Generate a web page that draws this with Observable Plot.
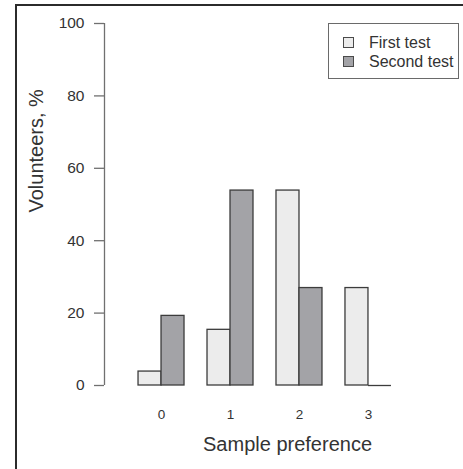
<!DOCTYPE html>
<html><head><meta charset="utf-8">
<script src="https://cdn.jsdelivr.net/npm/d3@7"></script>
<script src="https://cdn.jsdelivr.net/npm/@observablehq/plot@0.6"></script>
<style>
body{margin:0;background:#fff;}
#wrap{position:relative;width:463px;height:469px;overflow:hidden;font-family:"Liberation Sans",Arial,sans-serif;}
#wrap svg{position:absolute;left:0;top:0;}
#frame{position:absolute;left:15px;top:4px;right:-10px;bottom:-10px;border-left:2.5px solid #2b2b2b;border-top:2.5px solid #2b2b2b;pointer-events:none;}
#legend{position:absolute;left:328px;top:23px;width:131px;height:56px;border:1.3px solid #6a6a6a;background:#fff;box-sizing:border-box;}
.item{position:absolute;left:40px;font-size:16px;line-height:18px;color:#333;white-space:nowrap;}
.sw{position:absolute;left:14px;width:11px;height:11px;border:1px solid #4a4a4a;box-sizing:border-box;}
</style></head>
<body><div id="wrap"></div>
<script>
const categories = ["0", "1", "2", "3"];
const series = ["First test", "Second test"];
const firstTest = [3.85, 15.38, 53.85, 26.92];
const secondTest = [19.23, 53.85, 26.92, 0];
const yTicks = [0, 20, 40, 60, 80, 100];
const colors = ["#ececec", "#a3a3a7"];
const xDomain = [-0.48, 12.48];

const values = [firstTest, secondTest];
const table = [];
categories.forEach((c, i) => {
  series.forEach((s, j) => {
    table.push({category: c, series: s, value: values[j][i], slot: 1 + 3 * i + j});
  });
});
const centers = categories.map((c, i) => ({category: c, pos: 2 + 3 * i}));

const textColor = "#333";
const axisColor = "#707070";

const chart = Plot.plot({
  width: 463,
  height: 469,
  marginLeft: 104,
  marginRight: 61,
  marginTop: 23,
  marginBottom: 84,
  x: {domain: xDomain, axis: null},
  y: {domain: [0, 100], axis: null},
  color: {domain: series, range: colors},
  style: {fontFamily: '"Liberation Sans", Arial, sans-serif', background: "transparent", color: textColor},
  marks: [
    Plot.rect(table, {x1: "slot", x2: d => d.slot + 1, y1: 0, y2: "value", fill: "series", stroke: "#3c3c3c", strokeWidth: 1.3}),
    Plot.ruleY(table.filter(d => d.value === 0), {x1: "slot", x2: d => d.slot + 1, y: 0, stroke: "#3c3c3c", strokeWidth: 1.3}),
    Plot.ruleX([xDomain[0]], {y1: 0, y2: 100, stroke: axisColor, strokeWidth: 1.3}),
    Plot.axisY({ticks: yTicks, tickSize: 10, tickPadding: 10, label: null, fontSize: 15.5, stroke: axisColor, strokeWidth: 1.3, color: textColor}),
    Plot.text(centers, {x: "pos", y: 0, text: "category", dy: 29, fontSize: 13.5, fill: textColor}),
    Plot.text(["Sample preference"], {frameAnchor: "bottom", dx: 34, dy: 65, fontSize: 20, fill: textColor}),
    Plot.text(["Volunteers, %"], {frameAnchor: "left", rotate: -90, dx: -68, dy: 8, fontSize: 20, fill: textColor})
  ]
});

const wrap = document.getElementById("wrap");
wrap.appendChild(chart);
const frame = document.createElement("div");
frame.id = "frame";
wrap.appendChild(frame);

const legend = document.createElement("div");
legend.id = "legend";
series.forEach((s, j) => {
  const sw = document.createElement("div");
  sw.className = "sw";
  sw.style.top = (13 + j * 19) + "px";
  sw.style.background = colors[j];
  legend.appendChild(sw);
  const t = document.createElement("div");
  t.className = "item";
  t.style.top = (10 + j * 19) + "px";
  t.textContent = s;
  legend.appendChild(t);
});
wrap.appendChild(legend);
</script>
</body></html>
